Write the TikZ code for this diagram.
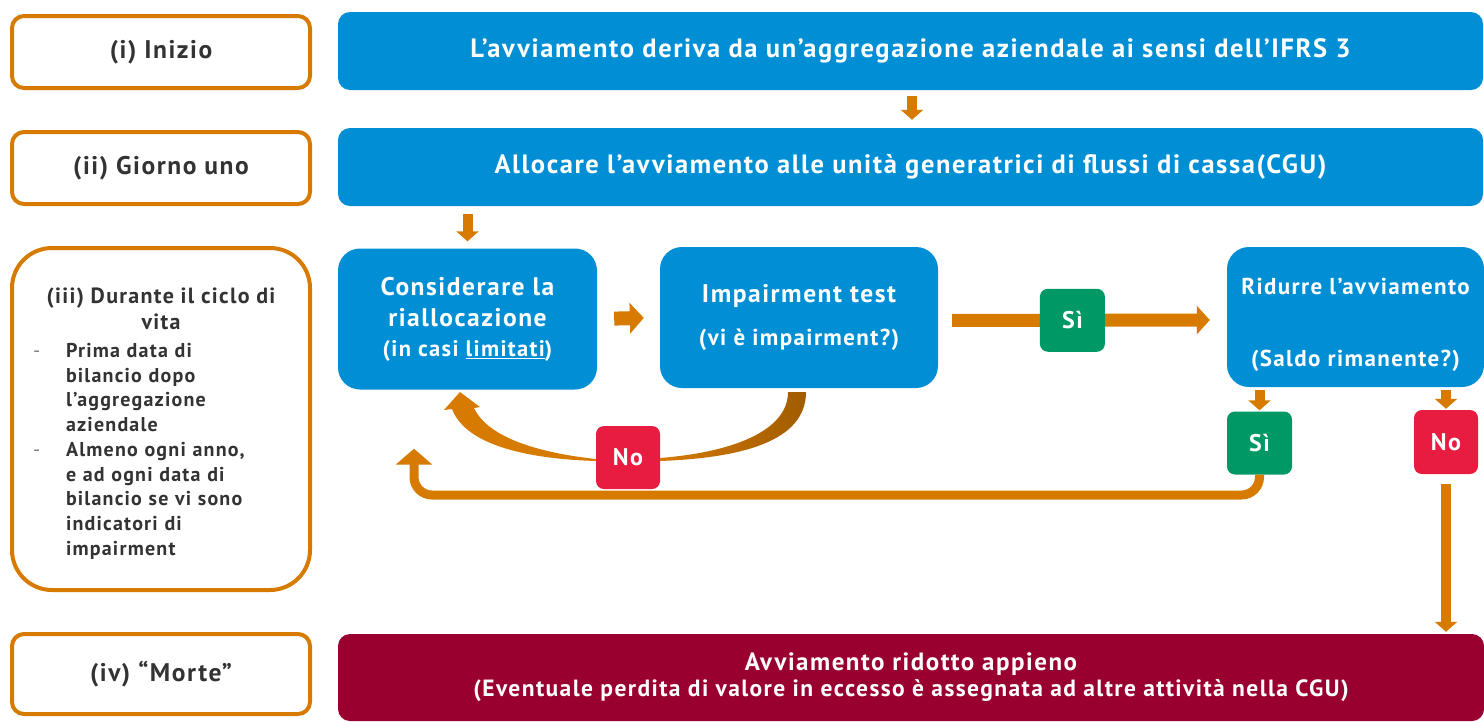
\documentclass[tikz,border=0pt]{standalone}
\usepackage{fontspec}
\setmainfont{PT Sans}[LetterSpace=6]
\usetikzlibrary{arrows.meta}
\definecolor{kblue}{RGB}{0,143,213}
\definecolor{korange}{RGB}{214,122,0}
\definecolor{kbrown}{RGB}{160,92,0}
\definecolor{kgreen}{RGB}{0,153,102}
\definecolor{kred}{RGB}{232,28,64}
\definecolor{kwine}{RGB}{153,0,48}
\definecolor{kgray}{RGB}{51,51,51}
\begin{document}
\begin{tikzpicture}[x=1pt, y=-1pt,
    phase/.style={draw=korange, line width=4pt, rounded corners=12pt, fill=white,
      text=kgray, inner sep=0pt, minimum width=298pt, align=center,
      font=\bfseries\fontsize{25.5}{29}\selectfont},
    stepbox/.style={fill=kblue, text=white, rounded corners=22pt, inner sep=0pt,
      align=center, font=\bfseries\fontsize{25.5}{31}\selectfont},
    wide/.style={stepbox, rounded corners=12pt, minimum width=1145pt, minimum height=78pt,
      font=\bfseries\fontsize{26.5}{30}\selectfont},
    answer/.style={rounded corners=8pt, text=white, inner sep=0pt, minimum width=65pt,
      minimum height=63pt, font=\bfseries\fontsize{24}{28}\selectfont},
    yes/.style={answer, fill=kgreen},
    no/.style={answer, fill=kred},
    fat/.style={draw=korange, line width=10pt, -{Triangle[width=22pt, length=10pt]}},
  ]
\useasboundingbox (0,0) rectangle (1484,721);

% phases on the left
\node[phase, minimum height=72pt] (start) at (161,52) {(i) Inizio};
\node[phase, minimum height=72pt] (day) at (161,168) {(ii) Giorno uno};
\node[phase, rounded corners=40pt, minimum height=342pt, text width=256pt, align=left,
  font=\bfseries\fontsize{20}{24.7}\selectfont] (life) at (161,419)
  {{\centering\fontsize{22}{26}\selectfont\rule{0pt}{25pt}(iii) Durante il ciclo di\\ vita\par}
   \vspace{3pt}
   \makebox[33pt][l]{\mdseries\color{gray}-}Prima data di\\
   \hspace*{33pt}bilancio dopo\\
   \hspace*{33pt}l’aggregazione\\
   \hspace*{33pt}aziendale\\
   \makebox[33pt][l]{\mdseries\color{gray}-}Almeno ogni anno,\\
   \hspace*{33pt}e ad ogni data di\\
   \hspace*{33pt}bilancio se vi sono\\
   \hspace*{33pt}indicatori di\\
   \hspace*{33pt}impairment};
\node[phase, minimum height=80pt] (death) at (161,674) {(iv) “Morte”};

% steps
\node[wide] (avv) at (910.5,51)
  {L’avviamento deriva da un’aggregazione aziendale ai sensi dell’IFRS 3};
\node[wide] (alloc) at (910.5,167)
  {Allocare l’avviamento alle unità generatrici di flussi di cassa(CGU)};
\node[stepbox, minimum width=259pt, minimum height=141pt] (cons) at (467.5,319)
  {Considerare la\\ riallocazione\\[-1pt]
   {\fontsize{22.5}{26}\selectfont(in casi \underline{limitati})}};
\node[stepbox, minimum width=278pt, minimum height=141pt] (imp) at (799,317.5)
  {Impairment test\\[12pt]{\fontsize{23}{26}\selectfont(vi è impairment?)}};
\node[stepbox, minimum width=257pt, minimum height=140pt,
  font=\bfseries\fontsize{23}{26}\selectfont] (red) at (1355.5,317)
  {\rule{0pt}{32pt}Ridurre l’avviamento\\[46pt](Saldo rimanente?)};
\node[yes] (yes2) at (1259.5,443) {Sì};
\node[no, minimum width=64pt, minimum height=64pt] (no2) at (1446,442) {No};
\node[no, minimum width=64pt] (no1) at (628,457.5) {No};
\node[stepbox, rounded corners=12pt, fill=kwine, minimum width=1146pt, minimum height=87pt,
  font=\bfseries\fontsize{23.5}{26}\selectfont] (end) at (911,677.5)
  {{\fontsize{25}{26}\selectfont Avviamento ridotto appieno}\\
   (Eventuale perdita di valore in eccesso è assegnata ad altre attività nella CGU)};

% arrows
\draw[fat, shorten <=6pt, shorten >=8pt] (avv.south -| 912,0) -- (alloc.north -| 912,0);
\draw[fat, shorten <=8pt, shorten >=7pt] (alloc.south -| cons.north) -- (cons.north);
\draw[fat, line width=14pt, -{Triangle[width=30pt, length=14pt]}, shorten <=17pt, shorten >=16pt]
  (cons.east) -- (imp.west);
\draw[fat, line width=13pt, -{Triangle[width=28pt, length=13pt]}, shorten <=14pt, shorten >=17pt]
  ([yshift=-3pt]imp.east) -- node[yes, pos=0.465] (yes1) {Sì} ([yshift=-3pt]red.west);
\draw[fat, shorten <=3pt, shorten >=1pt] (red.south -| yes2.north) -- (yes2.north);
\draw[fat, shorten <=3pt, shorten >=1pt] (red.south -| no2.north) -- (no2.north);
\draw[fat, shorten <=10pt, shorten >=2pt] (no2.south) -- (no2.south |- end.north);

% return from the second Si
\coordinate (back) at (414,495);
\draw[draw=korange, line width=9pt, rounded corners=18pt, -{Triangle[width=36pt, length=16pt]},
  shorten >=59pt] (yes2.south) |- (back) -- (back |- cons.south);

% bent arrow from the test back to the reallocation
\shade[left color=korange, right color=kbrown]
  (806,392) .. controls (806,442) and (740,458) .. (660,461)
  -- (660,458) .. controls (735,452) and (788,430) .. (788,392) -- cycle;
\fill[korange]
  (596,461) .. controls (530,459) and (466,446) .. (452,409)
  -- (444,410) -- (460,392) -- (480,407) -- (474,408)
  .. controls (488,438) and (540,453) .. (596,459) -- cycle;
\end{tikzpicture}
\end{document}
